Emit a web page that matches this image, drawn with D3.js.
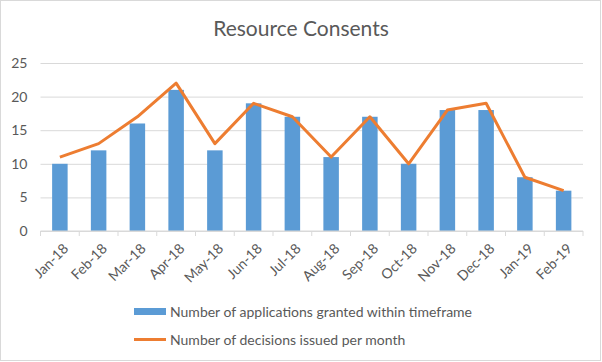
<!DOCTYPE html>
<html>
<head>
<meta charset="utf-8">
<script src="https://cdn.jsdelivr.net/npm/d3@7"></script>
<style>
  body { margin: 0; background: #fff; }
  text { font-family: Lato, "Open Sans", sans-serif; fill: #595959; }
</style>
</head>
<body>
<div id="chart"></div>
<script>
var months = ['Jan-18', 'Feb-18', 'Mar-18', 'Apr-18', 'May-18', 'Jun-18', 'Jul-18',
              'Aug-18', 'Sep-18', 'Oct-18', 'Nov-18', 'Dec-18', 'Jan-19', 'Feb-19'];
var granted = [10, 12, 16, 21, 12, 19, 17, 11, 17, 10, 18, 18, 8, 6];
var decisions = [11, 13, 17, 22, 13, 19, 17, 11, 17, 10, 18, 19, 8, 6];
var yTicks = [0, 5, 10, 15, 20, 25];

var barLabel = 'Number of applications granted within timeframe';
var lineLabel = 'Number of decisions issued per month';

var bar_blue = '#5B9BD5';
var line_orange = '#ED7D31';
var grid_grey = '#D9D9D9';

var fullWidth = 602;
var fullHeight = 362;
var plot = {left: 40.5, right: 583, top: 63, bottom: 231};

var svg = d3.select('#chart').append('svg')
  .attr('width', fullWidth)
  .attr('height', fullHeight);

// chart border
svg.append('rect')
  .attr('x', 0.5).attr('y', 0.5)
  .attr('width', fullWidth - 2).attr('height', fullHeight - 2)
  .style('fill', '#fff')
  .style('stroke', grid_grey);

svg.append('text')
  .attr('x', 301)
  .attr('y', 36)
  .style('text-anchor', 'middle')
  .style('font-size', '21px')
  .text('Resource Consents');

var xScale = d3.scaleBand()
  .domain(months)
  .range([plot.left, plot.right]);

var yScale = d3.scaleLinear()
  .domain([0, 25])
  .range([plot.bottom, plot.top]);

// gridlines + y labels
var yAxis = d3.axisLeft(yScale)
  .tickValues(yTicks)
  .tickSize(-(plot.right - plot.left))
  .tickPadding(13);

var yAxisEle = svg.append('g')
  .attr('transform', 'translate(' + plot.left + ',0)')
  .call(yAxis);
yAxisEle.select('.domain').remove();
yAxisEle.selectAll('line').style('stroke', grid_grey);
yAxisEle.selectAll('text')
  .style('font-size', '14px')
  .style('font-family', 'Lato, "Open Sans", sans-serif')
  .style('fill', '#595959');

// bars
var barWidth = xScale.bandwidth() * 0.4;
svg.append('g').selectAll('rect.bar')
  .data(granted)
  .enter().append('rect')
    .classed('bar', true)
    .attr('x', function(d, i) { return xScale(months[i]) + (xScale.bandwidth() - barWidth) / 2; })
    .attr('width', barWidth)
    .attr('y', function(d) { return yScale(d); })
    .attr('height', function(d) { return yScale(0) - yScale(d); })
    .style('fill', bar_blue);

// x axis with ticks between categories
var xAxisEle = svg.append('g')
  .attr('transform', 'translate(0,' + plot.bottom + ')');
xAxisEle.append('line')
  .attr('x1', plot.left).attr('x2', plot.right)
  .style('stroke', grid_grey);
xAxisEle.selectAll('line.tick')
  .data(months.concat(['end']))
  .enter().append('line')
    .classed('tick', true)
    .attr('x1', function(d, i) { return plot.left + i * xScale.step(); })
    .attr('x2', function(d, i) { return plot.left + i * xScale.step(); })
    .attr('y1', 0).attr('y2', 5)
    .style('stroke', grid_grey);
xAxisEle.selectAll('text')
  .data(months)
  .enter().append('text')
    .attr('transform', function(d) {
      return 'translate(' + (xScale(d) + xScale.bandwidth() / 2 + 6) + ',15) rotate(-45)';
    })
    .attr('dy', '0.35em')
    .style('text-anchor', 'end')
    .style('font-size', '14px')
    .text(function(d) { return d; });

// line
var line = d3.line()
  .x(function(d, i) { return xScale(months[i]) + xScale.bandwidth() / 2; })
  .y(function(d) { return yScale(d); });

svg.append('path')
  .datum(decisions)
  .attr('d', line)
  .style('fill', 'none')
  .style('stroke', line_orange)
  .style('stroke-width', 3)
  .style('stroke-linejoin', 'round');

// legend
var legend = svg.append('g').attr('class', 'legend');
legend.append('rect')
  .attr('x', 134).attr('y', 308)
  .attr('width', 32).attr('height', 7)
  .style('fill', bar_blue);
legend.append('text')
  .attr('x', 170).attr('y', 312)
  .attr('dy', '0.35em')
  .style('font-size', '14px')
  .text(barLabel);
legend.append('line')
  .attr('x1', 134).attr('x2', 166)
  .attr('y1', 339.5).attr('y2', 339.5)
  .style('stroke', line_orange)
  .style('stroke-width', 3);
legend.append('text')
  .attr('x', 170).attr('y', 340)
  .attr('dy', '0.35em')
  .style('font-size', '14px')
  .text(lineLabel);
</script>
</body>
</html>
